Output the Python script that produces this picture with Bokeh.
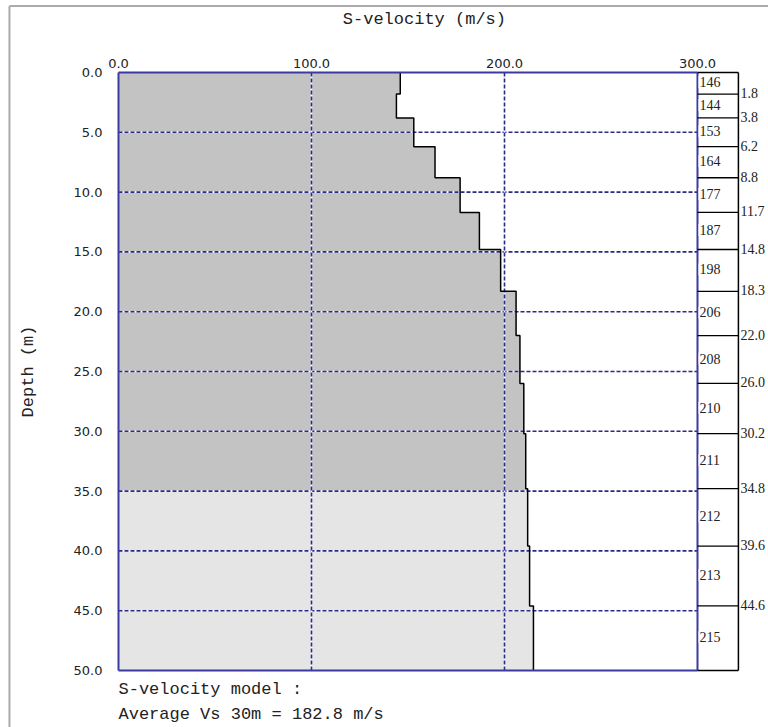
import math
from bokeh.plotting import figure
from bokeh.models import Range1d
from bokeh.core.properties import value
from bokeh.embed import file_html
from bokeh.resources import INLINE

# Layered S-wave velocity model
layer_vs = [146, 144, 153, 164, 177, 187, 198, 206, 208, 210, 211, 212, 213, 215]
layer_top = [0.0, 1.8, 3.8, 6.2, 8.8, 11.7, 14.8, 18.3, 22.0, 26.0, 30.2, 34.8, 39.6, 44.6]
model_bottom = 50.0
shade_depth = 35.0          # darker shading above this depth
avg_vs30 = 182.8

vel_ticks = [0, 100, 200, 300]
depth_ticks = [0, 5, 10, 15, 20, 25, 30, 35, 40, 45, 50]
grid_vel = [100, 200]
grid_depth = [5, 10, 15, 20, 25, 30, 35, 40, 45]

layer_bot = layer_top[1:] + [model_bottom]
vel_max = vel_ticks[-1]
panel_right = 321.2         # right edge of the layer-label column

FRAME = "#3a3aa0"
GRID = "#2b2b85"
INK = "#222222"
MONO = value("Liberation Mono")
NUM = value("DejaVu Sans")
SERIF = value("Liberation Serif")

# the canvas is one data frame: 1.93 px per m/s, 11.96 px per metre
p = figure(width=768, height=727, output_backend="svg", toolbar_location=None,
           x_axis_location=None, y_axis_location=None,
           x_range=Range1d(-61.14, 336.79), y_range=Range1d(54.766, -6.020),
           min_border=0)
p.xgrid.visible = False
p.ygrid.visible = False
p.outline_line_color = None
p.background_fill_color = "white"
p.border_fill_color = "white"

# window edge
p.line([-56.5, 340], [-5.55, -5.55], line_color="#ababab", line_width=2)
p.line([-56.5, -56.5], [-5.55, 60], line_color="#ababab", line_width=2)

# shaded area under the velocity profile, split at shade_depth
up_x, up_y = [0], [0]
lo_x, lo_y = [0], [shade_depth]
for v, t, b in zip(layer_vs, layer_top, layer_bot):
    if t < shade_depth:
        up_x += [v, v]
        up_y += [t, min(b, shade_depth)]
    if b > shade_depth:
        lo_x += [v, v]
        lo_y += [max(t, shade_depth), b]
up_x.append(0); up_y.append(shade_depth)
lo_x.append(0); lo_y.append(model_bottom)
p.patch(up_x, up_y, fill_color="#c3c3c3", line_color=None)
p.patch(lo_x, lo_y, fill_color="#e5e5e5", line_color=None)

# dashed grid (white under-stroke so the gaps read white over the shading)
hx = [[0, vel_max] for _ in grid_depth]
hy = [[d, d] for d in grid_depth]
vx = [[v, v] for v in grid_vel]
vy = [[0, model_bottom] for _ in grid_vel]
for xs, ys in ((hx, hy), (vx, vy)):
    p.multi_line(xs, ys, line_color="white", line_width=1.6)
    p.multi_line(xs, ys, line_color=GRID, line_width=1.6, line_dash="4 2")

# velocity profile as a step line
px, py = [], []
for v, t, b in zip(layer_vs, layer_top, layer_bot):
    px += [v, v]
    py += [t, b]
p.line(px, py, line_color="black", line_width=1.5)

# plot frame
p.multi_line([[0, vel_max], [0, 0], [0, vel_max], [vel_max, vel_max]],
             [[0, 0], [0, model_bottom], [model_bottom, model_bottom], [0, model_bottom]],
             line_color=FRAME, line_width=2)

# layer column: boundaries and outline
bnd = [0.0] + layer_top[1:] + [model_bottom]
p.multi_line([[vel_max, panel_right] for _ in bnd], [[d, d] for d in bnd],
             line_color="black", line_width=1.3)
p.line([panel_right, panel_right], [0, model_bottom], line_color="black", line_width=1.5)

mid = [(t + b) / 2 for t, b in zip(layer_top, layer_bot)]
p.text(x=[vel_max] * len(layer_vs), y=mid, text=[str(v) for v in layer_vs],
       text_font=SERIF, text_font_size="14px", text_color=INK,
       text_align="left", text_baseline="middle", x_offset=1, y_offset=-1,
       background_fill_color="white", padding=1)
p.text(x=[panel_right] * (len(layer_top) - 1), y=layer_top[1:],
       text=["%.1f" % d for d in layer_top[1:]],
       text_font=SERIF, text_font_size="14px", text_color=INK,
       text_align="left", text_baseline="middle", x_offset=2, y_offset=-1)

# tick labels
p.text(x=vel_ticks, y=[0] * len(vel_ticks), text=["%.1f" % v for v in vel_ticks],
       text_font=NUM, text_font_size="13px", text_color=INK,
       text_align="center", text_baseline="bottom", y_offset=-4)
p.text(x=[0] * len(depth_ticks), y=depth_ticks, text=["%.1f" % d for d in depth_ticks],
       text_font=NUM, text_font_size="13px", text_color=INK,
       text_align="right", text_baseline="middle", x_offset=-16)

# captions
p.text(x=[vel_max / 2 + 8.5], y=[0], text=["S-velocity (m/s)"], text_font=MONO,
       text_font_size="17px", text_color=INK, text_align="center",
       text_baseline="middle", y_offset=-53)
p.text(x=[0], y=[model_bottom / 2], text=["Depth (m)"], text_font=MONO,
       text_font_size="17px", text_color=INK, text_align="center",
       text_baseline="middle", angle=math.pi / 2, x_offset=-90)
p.text(x=[0, 0], y=[model_bottom, model_bottom],
       text=["S-velocity model :", "Average Vs 30m = %.1f m/s" % avg_vs30],
       text_font=MONO, text_font_size="17px", text_color=INK,
       text_align="left", text_baseline="middle", y_offset=[19, 44])

open("out.html", "w").write(file_html(p, INLINE))
